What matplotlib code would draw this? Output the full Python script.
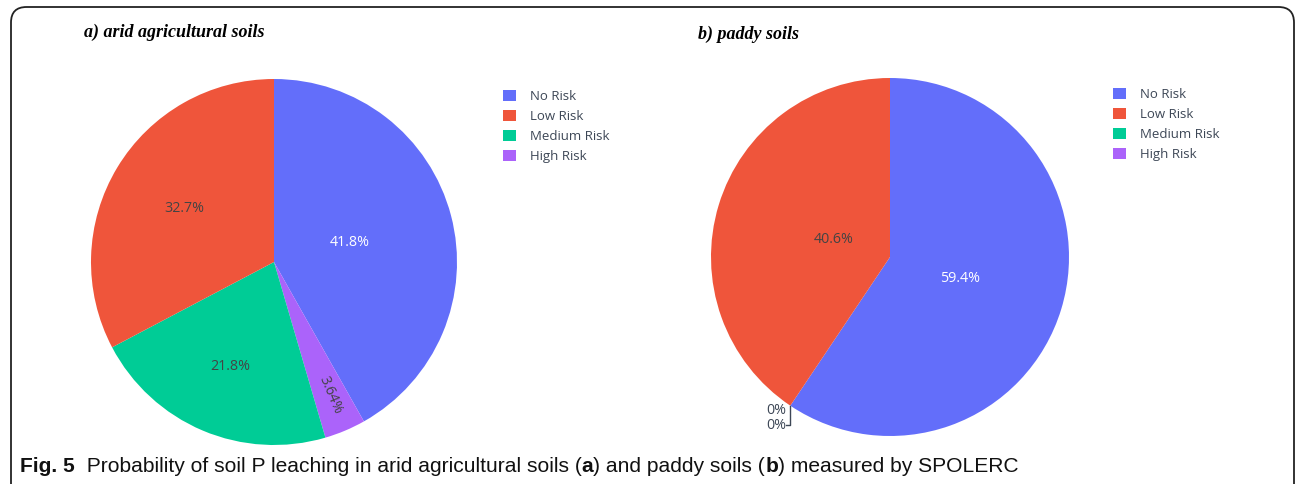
import matplotlib.pyplot as plt
import numpy as np
from matplotlib.patches import Patch, FancyBboxPatch

# data
labels = ['No Risk', 'Low Risk', 'Medium Risk', 'High Risk']
colors = ['#636efa', '#ef553b', '#00cc96', '#ab63fa']
arid = [41.8, 32.7, 21.8, 3.64]
paddy = [59.4, 40.6, 0, 0]
# slices go clockwise from 12 o'clock in this order
slice_order = [0, 3, 2, 1]

W, H = 1296, 484
PIE_FONT = 'Open Sans'
TXT = '#3d4756'


def px_axes(fig, cx, cy, r):
    return fig.add_axes([(cx - r) / W, (H - cy - r) / H, 2 * r / W, 2 * r / H])


def draw_pie(ax, values, label_r, label_col, rotate=()):
    vals = [values[i] for i in slice_order]
    cols = [colors[i] for i in slice_order]
    wedges, _, autotexts = ax.pie(vals, colors=cols, startangle=90, counterclock=False,
                                  radius=1, autopct=lambda p: f'{p:.3g}%',
                                  textprops=dict(fontsize=10.3, family=PIE_FONT))
    for k, (w, t) in enumerate(zip(wedges, autotexts)):
        mid = (w.theta1 + w.theta2) / 2
        a = np.deg2rad(mid)
        t.set_position((label_r[k] * np.cos(a), label_r[k] * np.sin(a)))
        t.set_color(label_col[k])
        if k in rotate:
            t.set_rotation(mid)
        if vals[k] == 0:
            t.set_visible(False)
    ax.set_xlim(-1, 1)
    ax.set_ylim(-1, 1)
    ax.axis('off')
    return wedges, vals


fig = plt.figure(figsize=(W / 100, H / 100), dpi=100)

# rounded frame
frame = FancyBboxPatch((11 / W, -20 / H), (1294 - 11) / W, (H - 7 + 20) / H,
                       boxstyle='round,pad=0,rounding_size=0.012', transform=fig.transFigure,
                       fill=False, edgecolor='#222222', linewidth=1.3, mutation_aspect=W / H)
fig.patches.append(frame)

# a) arid soils
ax_a = px_axes(fig, 274, 262, 183)
draw_pie(ax_a, arid, [0.43, 0.79, 0.62, 0.57],
         ['white', '#444444', '#444444', '#444444'], rotate=(1,))

# b) paddy soils
ax_b = px_axes(fig, 890, 257, 179)
wedges_b, vals_b = draw_pie(ax_b, paddy, [0.41, 0.5, 0.5, 0.33],
                            ['white', '#444444', '#444444', '#444444'])
# outside labels for the empty slices
edge = np.deg2rad(wedges_b[1].theta1)
x0, y0 = np.cos(edge), np.sin(edge)
ax_b.plot([x0, x0, x0 - 0.025], [y0, -0.94, -0.94], color=TXT, lw=1, clip_on=False)
for yy, k in zip([-0.855, -0.94], [1, 2]):
    ax_b.text(x0 - 0.025, yy, f'{vals_b[k]:.3g}%', ha='right', va='center',
              fontsize=10.3, family=PIE_FONT, color=TXT)

# panel titles
fig.text(84 / W, 1 - 37 / H, 'a) arid agricultural soils', family='Liberation Serif',
         fontweight='bold', fontstyle='italic', fontsize=13, va='baseline')
fig.text(698 / W, 1 - 39 / H, 'b) paddy soils', family='Liberation Serif',
         fontweight='bold', fontstyle='italic', fontsize=13, va='baseline')

# legends
handles = [Patch(facecolor=c, edgecolor='none') for c in colors]
for lx, ly in [(503, 90), (1113, 88)]:
    fig.legend(handles, labels, loc='upper left', bbox_to_anchor=(lx / W, 1 - ly / H),
               frameon=False, borderpad=0, borderaxespad=0,
               handlelength=1.0, handleheight=0.9, handletextpad=1.05, labelspacing=0.52,
               prop=dict(family=PIE_FONT, size=9.5), labelcolor=TXT)

# caption
fig.canvas.draw()
renderer = fig.canvas.get_renderer()
parts = [('Fig. 5', 'bold'), ('  Probability of soil P leaching in arid agricultural soils (', 'normal'),
         ('a', 'bold'), (') and paddy soils (', 'normal'), ('b', 'bold'),
         (') measured by SPOLERC', 'normal')]
x = 20
for s, wt in parts:
    t = fig.text(x / W, 1 - 472 / H, s, fontweight=wt, fontsize=15.1, va='baseline',
                 family='Liberation Sans', color='#111111')
    x = t.get_window_extent(renderer).x1

fig.savefig('out.png', dpi=100)
